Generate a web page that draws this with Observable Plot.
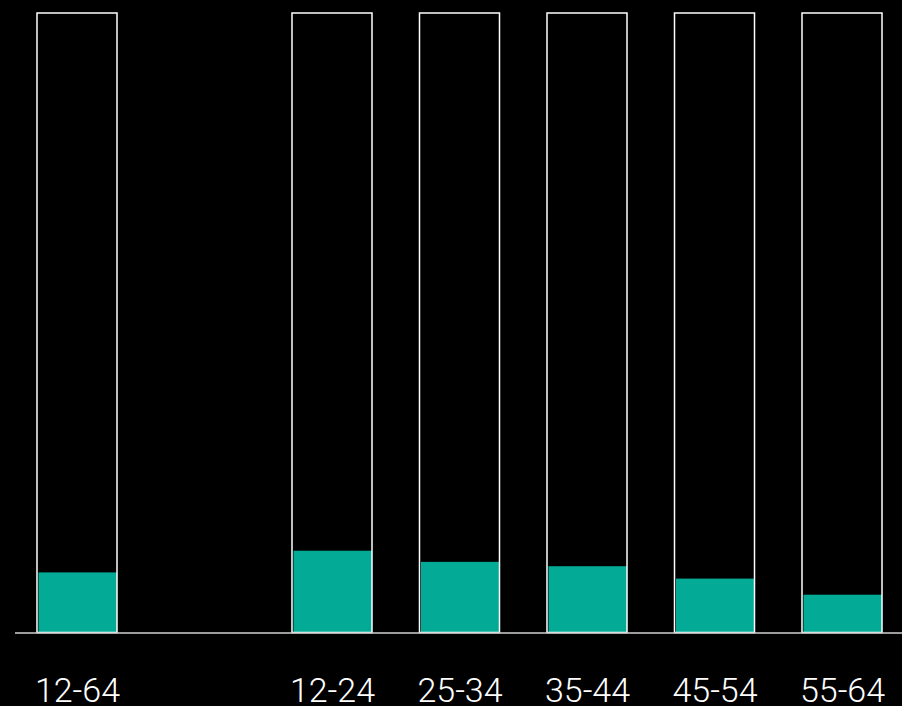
<!DOCTYPE html>
<html>
<head>
<meta charset="utf-8">
<script src="https://cdn.jsdelivr.net/npm/d3@7"></script>
<script src="https://cdn.jsdelivr.net/npm/@observablehq/plot@0.6"></script>
<style>
  html, body { margin: 0; padding: 0; background: #000; }
  #chart { width: 902px; height: 706px; overflow: hidden; }
</style>
</head>
<body>
<div id="chart"></div>
<script>
// Categories (age groups) and percentage values
const categories = ["12-64", "12-24", "25-34", "35-44", "45-54", "55-64"];
const values = [9.7, 13.2, 11.4, 10.7, 8.7, 6.1];
// x domain with an empty slot after the total group
const xDomain = ["12-64", "gap", "12-24", "25-34", "35-44", "45-54", "55-64"];
const maxValue = 100;

const data = categories.map((c, i) => ({ group: c, value: values[i], full: maxValue }));

const chart = Plot.plot({
  width: 902,
  height: 706,
  marginTop: 13,
  marginBottom: 73.5,
  marginLeft: 15,
  marginRight: 0,
  style: { background: "#000", color: "#fff", fontFamily: "Roboto, sans-serif" },
  x: { domain: xDomain, range: [15, 904], paddingInner: 0.3725, paddingOuter: 0.1725, round: false, label: null },
  y: { domain: [0, maxValue], axis: null },
  marks: [
    Plot.barY(data, { x: "group", y: "value", fill: "#03ab97", insetLeft: 1.5 }),
    Plot.barY(data, { x: "group", y: "full", fill: "none", stroke: "#fff", strokeWidth: 1.5 }),
    Plot.ruleY([0], { stroke: "#d0d0d0", strokeWidth: 1.5 }),
    Plot.axisX({
      tickSize: 0,
      tickPadding: 45,
      fontSize: 34,
      fontWeight: 300,
      fill: "#fff",
      tickFormat: d => d === "gap" ? "" : d,
      label: null
    })
  ]
});
document.getElementById("chart").appendChild(chart);
</script>
</body>
</html>
